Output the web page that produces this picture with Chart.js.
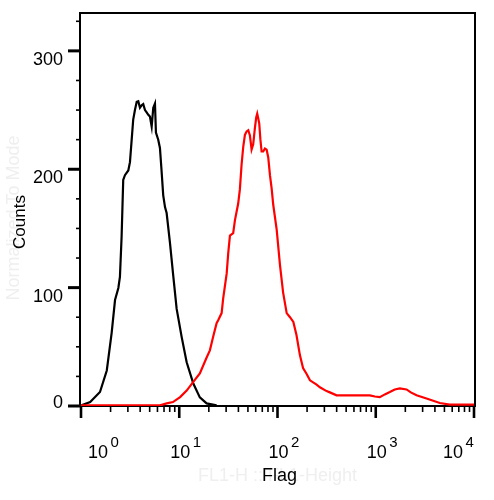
<!DOCTYPE html>
<html><head><meta charset="utf-8">
<script src="https://cdn.jsdelivr.net/npm/chart.js@4/dist/chart.umd.min.js"></script>
<style>html,body{margin:0;padding:0;background:#fff;}#wrap{width:494px;height:500px;}</style>
</head><body><div id="wrap"><canvas id="c" width="494" height="500"></canvas></div>
<script>
// Control (black) histogram
const controlX = [1.0, 1.24, 1.56, 1.83, 2.05, 2.22, 2.40, 2.49, 2.59, 2.69, 2.80, 3.03, 3.15, 3.28, 3.40, 3.54, 3.69, 3.83, 3.98, 4.14, 4.30, 4.48, 4.66, 4.84, 5.03, 5.24, 5.44, 5.66, 5.79, 6.11, 6.36, 6.59, 6.87, 7.16, 7.44, 8.04, 8.69, 9.41, 10.6, 11.9, 13.9, 16.2, 19.0, 24.0];
const controlY = [0.5, 3.3, 11.8, 30, 61.5, 89.5, 99.7, 109, 143, 191, 195, 199, 206, 225, 242, 250, 257, 257.5, 252, 254, 255, 250, 248, 246, 244.5, 236, 252, 255.5, 231, 225, 218, 200, 178, 168, 163, 138, 110, 82, 58, 37, 19, 7.3, 2.2, 0.5];
// Flag-stained (red) histogram
const flagX = [1.0, 6.36, 7.45, 8.63, 10.2, 11.9, 13.9, 16.2, 19.0, 20.5, 22.2, 24.0, 24.9, 27.0, 28.0, 30.4, 31.5, 32.8, 35.4, 36.9, 39.8, 41.4, 43.1, 44.8, 46.6, 48.5, 50.4, 52.4, 54.5, 56.6, 58.9, 60.7, 62.2, 63.7, 65.2, 67.0, 68.9, 71.6, 74.5, 77.5, 80.5, 83.8, 87.1, 90.5, 98.1, 106, 114, 124, 134, 145, 156, 169, 182, 198, 214, 250, 270, 316, 341, 399, 431, 589, 871, 979, 1100, 1237, 1390, 1563, 1758, 2057, 2275, 2601, 3288, 4488, 5675, 10000];
const flagY = [0.5, 0.5, 2.2, 3.3, 7.5, 13, 20.4, 27.6, 41, 47, 59, 70, 72.5, 78.5, 91, 112, 129, 144, 146, 157, 171, 183, 204, 219, 229, 232, 233, 228.5, 216.6, 221, 235, 243.7, 247, 243, 238.6, 225, 215, 215, 217.5, 216.6, 210, 195, 184, 170, 149, 119, 96, 78.5, 75, 71, 60, 43, 32, 27, 21.7, 18, 15.8, 12.6, 11.5, 9, 9, 9, 9, 8, 7.5, 9.8, 11.8, 14, 14.9, 14, 11.5, 9, 6.4, 2.5, 1.1, 1.1];
// Axis ticks / labels
const xMajorTicks = [1, 10, 100, 1000, 10000];
const xExponents = ['0', '1', '2', '3', '4'];
const xMinorMultipliers = [2, 3, 4, 5, 6, 7, 8, 9];
const yMajorTicks = [0, 100, 200, 300];
const yMinorTicks = [25, 50, 75, 125, 150, 175, 225, 250, 275, 325];
const yAxisMax = 332;
const yTitle = 'Counts';
const yGhostTitle = 'Normalized To Mode';
const xTitle = 'Flag';
const xGhostTitle = 'FL1-H :: FL1-Height';

function pts(xs, ys) { return xs.map((x, i) => ({ x: x, y: ys[i] })); }

const FONT = '"Liberation Sans", Arial, sans-serif';

const axesPlugin = {
  id: 'axesPlugin',
  beforeDatasetsDraw(chart) {
    const ctx = chart.ctx, xs = chart.scales.x, ys = chart.scales.y;
    const L = xs.getPixelForValue(1), R = xs.getPixelForValue(10000);
    const T = ys.getPixelForValue(yAxisMax), B = ys.getPixelForValue(0);
    ctx.save();
    // ghost titles
    ctx.fillStyle = '#efefef';
    ctx.font = '18px ' + FONT;
    ctx.textAlign = 'center';
    ctx.textBaseline = 'alphabetic';
    ctx.fillText(xGhostTitle, 277.5, 481);
    ctx.save();
    ctx.translate(19, 218);
    ctx.rotate(-Math.PI / 2);
    ctx.fillText(xGhostTitle ? yGhostTitle : '', 0, 0);
    ctx.restore();
    // titles
    ctx.fillStyle = '#000';
    ctx.fillText(xTitle, 279.5, 481);
    ctx.save();
    ctx.translate(25, 222);
    ctx.rotate(-Math.PI / 2);
    ctx.font = '17px ' + FONT;
    ctx.fillText(yTitle, 0, 0);
    ctx.restore();

    ctx.strokeStyle = '#000';
    ctx.lineCap = 'butt';
    // frame top and right
    ctx.lineWidth = 2;
    ctx.beginPath();
    ctx.moveTo(L - 1, T); ctx.lineTo(R + 1, T); ctx.lineTo(R + 1, B);
    ctx.stroke();
    // left axis
    ctx.beginPath(); ctx.moveTo(L - 1, T - 1); ctx.lineTo(L - 1, B + 1); ctx.stroke();
    // bottom axis
    ctx.beginPath(); ctx.moveTo(L - 2, B); ctx.lineTo(R + 2, B); ctx.stroke();

    // y ticks
    ctx.lineWidth = 3;
    yMajorTicks.forEach(v => {
      const y = ys.getPixelForValue(v);
      ctx.beginPath(); ctx.moveTo(L - 13, y); ctx.lineTo(L - 1, y); ctx.stroke();
    });
    ctx.lineWidth = 1.6;
    yMinorTicks.forEach(v => {
      const y = ys.getPixelForValue(v);
      ctx.beginPath(); ctx.moveTo(L - 5, y); ctx.lineTo(L - 1, y); ctx.stroke();
    });
    // x ticks
    ctx.lineWidth = 2.6;
    xMajorTicks.forEach(v => {
      const x = xs.getPixelForValue(v);
      ctx.beginPath(); ctx.moveTo(x, B); ctx.lineTo(x, B + 12); ctx.stroke();
    });
    ctx.lineWidth = 1.6;
    xMajorTicks.slice(0, -1).forEach(d => {
      xMinorMultipliers.forEach(m => {
        const x = xs.getPixelForValue(d * m);
        ctx.beginPath(); ctx.moveTo(x, B); ctx.lineTo(x, B + 6); ctx.stroke();
      });
    });

    // y labels
    ctx.fillStyle = '#000';
    ctx.font = '18px ' + FONT;
    ctx.textAlign = 'right';
    ctx.textBaseline = 'alphabetic';
    yMajorTicks.forEach(v => {
      const y = ys.getPixelForValue(v);
      ctx.fillText(String(v), 63, v === 0 ? y + 1.5 : y + 14);
    });
    // x labels: 10 with superscript exponent
    ctx.textAlign = 'left';
    xMajorTicks.forEach((v, i) => {
      const x = xs.getPixelForValue(v);
      let left;
      if (i === 0) left = x + 7;
      else if (i === xMajorTicks.length - 1) left = x - 31;
      else left = x - 9;
      ctx.font = '18px ' + FONT;
      ctx.fillText('10', left, 458);
      ctx.font = '15px ' + FONT;
      ctx.fillText(xExponents[i], left + 22.5, 447);
    });
    ctx.restore();
  }
};

new Chart(document.getElementById('c'), {
  type: 'line',
  data: {
    datasets: [
      { label: 'Flag', data: pts(flagX, flagY), borderColor: '#ff0000', borderWidth: 2.2, pointRadius: 0, tension: 0, fill: false },
      { label: 'Control', data: pts(controlX, controlY), borderColor: '#000000', borderWidth: 2.2, pointRadius: 0, tension: 0, fill: false }
    ]
  },
  options: {
    responsive: false,
    animation: false,
    devicePixelRatio: 1,
    layout: { padding: { left: 81, right: 20, top: 13, bottom: 94 } },
    plugins: { legend: { display: false }, tooltip: { enabled: false } },
    scales: {
      x: { type: 'logarithmic', min: 1, max: 10000, display: false },
      y: { type: 'linear', min: 0, max: yAxisMax, display: false }
    }
  },
  plugins: [axesPlugin]
});
</script>
</body></html>
